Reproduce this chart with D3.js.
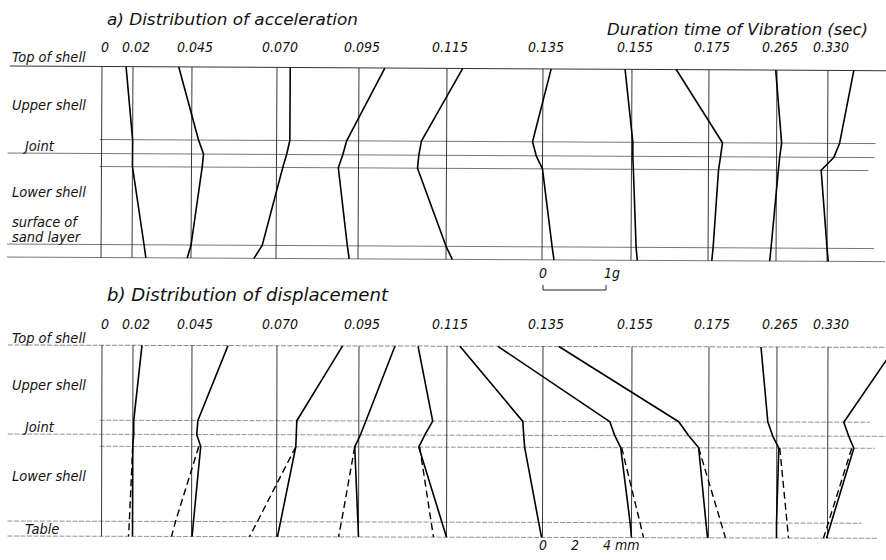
<!DOCTYPE html>
<html>
<head>
<meta charset="utf-8">
<script src="https://cdn.jsdelivr.net/npm/d3@7"></script>
<style>
  body { margin: 0; background: #fff; }
  text { font-family: "DejaVu Sans Condensed", "DejaVu Sans", sans-serif; font-style: italic; fill: #111; }
</style>
</head>
<body>
<div id="chart"></div>
<script>
// duration time of vibration (sec)
const times = ["0", "0.02", "0.045", "0.070", "0.095", "0.115", "0.135", "0.155", "0.175", "0.265", "0.330"];

// levels of the model
const levelsA = ["top", "jointTop", "jointMid", "jointBottom", "sand", "bottom"];
const levelsB = ["top", "jointTop", "jointMid", "jointBottom", "table", "bottom"];

// a) acceleration (g) at each level, one row per time
const accelValues = [
  [0, 0, 0, 0, 0, 0],
  [-0.11, 0, 0, 0, 0.19, 0.22],
  [-0.21, 0.11, 0.19, 0.17, 0, -0.06],
  [0.21, 0.21, 0.16, 0.10, -0.22, -0.35],
  [0.41, -0.19, -0.25, -0.32, -0.17, -0.14],
  [0.25, -0.40, -0.44, -0.46, 0, 0.10],
  [0.13, -0.16, -0.10, 0, 0.16, 0.19],
  [-0.11, 0.02, 0.02, 0.03, 0.08, 0.10],
  [-0.52, 0.22, 0.19, 0.16, 0.08, 0.06],
  [-0.02, 0.08, 0.05, 0.03, -0.08, -0.10],
  [0.41, 0.19, 0.10, -0.10, 0, 0.02]
];

// b) displacement (mm) at each level, one row per time
const dispValues = [
  [0, 0, 0, 0, 0, 0],
  [0.56, 0.06, 0.06, 0, 0, 0],
  [2.25, 0.38, 0.31, 0.56, 0.12, 0.04],
  [4.1, 1.25, 1.22, 1.19, 0.25, 0.06],
  [2.25, 0.44, 0.1, -0.25, -0.04, 0],
  [-1.81, -0.88, -1.38, -1.75, -0.29, 0],
  [-5.19, -1.25, -1.19, -1.13, -0.24, -0.06],
  [-8.38, -1.38, -1.06, -0.69, -0.09, 0],
  [-9.38, -1.88, -1.25, -0.63, -0.16, -0.06],
  [-1.0, -0.56, -0.25, 0.13, 0, 0],
  [4.19, 1.0, 1.31, 1.63, 0.22, -0.06]
];

// b) dashed lines in the lower shell (jointBottom, table, bottom)
const dashedLevels = ["jointBottom", "table", "bottom"];
const dispDashed = [
  null,
  [0, -0.2, -0.25],
  [0.44, -1.0, -1.25],
  [1.19, -1.2, -1.69],
  [-0.25, -1.07, -1.25],
  [-1.69, -0.96, -0.81],
  null,
  [-0.63, 0.53, 0.75],
  [-0.63, 0.78, 1.06],
  [0.19, 0.66, 0.75],
  [1.5, 0.04, -0.25]
];

const labelsA = [["Top of shell", 62], ["Upper shell", 110], ["Joint", 151], ["Lower shell", 197], ["surface of", 227], ["sand layer", 242]];
const labelsB = [["Top of shell", 343], ["Upper shell", 390], ["Joint", 432], ["Lower shell", 481], ["Table", 534]];

let width = 886, height = 560;

var svg = d3.select("#chart")
  .append("svg")
  .attr("width", width)
  .attr("height", height);

// position of each time's reference line
let x = d3.scaleOrdinal().domain(times)
  .range([102, 133, 192, 277, 359, 447, 543, 632, 709, 777, 828]);
// 1 g and 1 mm offsets
let gScale = d3.scaleLinear().domain([0, 1]).range([0, 63]);
let mmScale = d3.scaleLinear().domain([0, 1]).range([0, 16]);
let yA = d3.scaleOrdinal().domain(levelsA).range([66, 139, 153, 166, 244, 257]);
let yB = d3.scaleOrdinal().domain(levelsB).range([345, 420, 434, 446, 521, 536]);

// horizontal extents of the level lines
const extA = [[10, 886], [100, 876], [8, 875], [100, 869], [8, 875], [8, 886]];
const extB = [[8, 886], [100, 870], [8, 886], [100, 875], [8, 862], [8, 878]];

function drawPanel(opts) {
  let g = svg.append("g")
    .attr("transform", "rotate(" + opts.tilt + ",0," + opts.y(opts.levels[0]) + ")");

  // level lines
  g.selectAll(".level")
    .data(opts.levels)
    .enter()
    .append("line")
    .attr("x1", (d, i) => opts.ext[i][0])
    .attr("x2", (d, i) => opts.ext[i][1])
    .attr("y1", d => opts.y(d))
    .attr("y2", d => opts.y(d))
    .attr("stroke", (d, i) => i == 0 ? opts.topColor : opts.lineColor)
    .attr("stroke-width", (d, i) => i == 0 ? 1 : 0.8)
    .attr("stroke-dasharray", opts.dash);

  // reference line for every time
  g.selectAll(".ref")
    .data(times)
    .enter()
    .append("line")
    .attr("x1", d => x(d))
    .attr("x2", d => x(d))
    .attr("y1", opts.y(opts.levels[0]))
    .attr("y2", opts.y(opts.levels[opts.levels.length - 1]))
    .attr("stroke", "#222")
    .attr("stroke-width", 0.9);

  // profiles (time 0 lies on its reference line)
  g.selectAll(".profile")
    .data(opts.values)
    .enter()
    .append("path")
    .attr("d", (row, k) => d3.line()
      .x(v => x(times[k]) + opts.v(v))
      .y((v, i) => opts.y(opts.levels[i]))(row))
    .attr("fill", "none")
    .attr("stroke", "#000")
    .attr("stroke-width", (row, k) => k == 0 ? 0 : 1.6)
    .attr("stroke-linejoin", "round");

  if (opts.dashed) {
    g.selectAll(".dashed")
      .data(opts.dashed)
      .enter()
      .filter(d => d != null)
      .append("path")
      .attr("d", function(row) {
        let k = opts.dashed.indexOf(row);
        return d3.line()
          .x(v => x(times[k]) + opts.v(v))
          .y((v, i) => opts.y(dashedLevels[i]))(row);
      })
      .attr("fill", "none")
      .attr("stroke", "#000")
      .attr("stroke-width", 1.4)
      .attr("stroke-dasharray", "7,4");
  }

  // time labels
  svg.selectAll(".tl" + opts.name)
    .data(times)
    .enter()
    .append("text")
    .attr("x", d => x(d) + 3)
    .attr("y", opts.labelY)
    .attr("text-anchor", "middle")
    .style("font-size", "14px")
    .text(d => d);

  // level names
  svg.selectAll(".ln" + opts.name)
    .data(opts.names)
    .enter()
    .append("text")
    .attr("x", d => d[0] == "Joint" || d[0] == "Table" ? 25 : 12)
    .attr("y", d => d[1])
    .style("font-size", "14.5px")
    .text(d => d[0]);
}

drawPanel({ name: "a", levels: levelsA, y: yA, values: accelValues, v: gScale, ext: extA,
  tilt: 0.3, topColor: "#333", lineColor: "#555", dash: null, labelY: 52, names: labelsA });
drawPanel({ name: "b", levels: levelsB, y: yB, values: dispValues, v: mmScale, ext: extB,
  tilt: 0.15, topColor: "#888", lineColor: "#777", dash: "5,1.5", labelY: 329, names: labelsB, dashed: dispDashed });

// titles
svg.append("text").attr("x", 107).attr("y", 25).attr("textLength", 251).attr("lengthAdjust", "spacingAndGlyphs")
  .style("font-size", "16px").text("a) Distribution of acceleration");
svg.append("text").attr("x", 607).attr("y", 35).attr("textLength", 261).attr("lengthAdjust", "spacingAndGlyphs")
  .style("font-size", "16px").text("Duration time of Vibration (sec)");
svg.append("text").attr("x", 107).attr("y", 301).attr("textLength", 281).attr("lengthAdjust", "spacingAndGlyphs")
  .style("font-size", "17px").text("b) Distribution of displacement");

// scale bar for acceleration
let sx = x("0.135");
svg.append("path")
  .attr("d", d3.line()([[sx + gScale(0), 285], [sx + gScale(0), 290], [sx + gScale(1), 290], [sx + gScale(1), 285]]))
  .attr("fill", "none").attr("stroke", "#222").attr("stroke-width", 1);
svg.append("text").attr("x", sx + gScale(0)).attr("y", 278).attr("text-anchor", "middle").style("font-size", "14px").text("0");
svg.append("text").attr("x", sx + gScale(1) - 2).attr("y", 278).style("font-size", "14px").text("1g");

// scale for displacement
[0, 2, 4].forEach(function(d) {
  svg.append("text").attr("x", sx + mmScale(d)).attr("y", 550).attr("text-anchor", "middle")
    .style("font-size", "14px").text(d);
});
svg.append("text").attr("x", sx + mmScale(4) + 8).attr("y", 550).style("font-size", "14px").text("mm");
</script>
</body>
</html>
